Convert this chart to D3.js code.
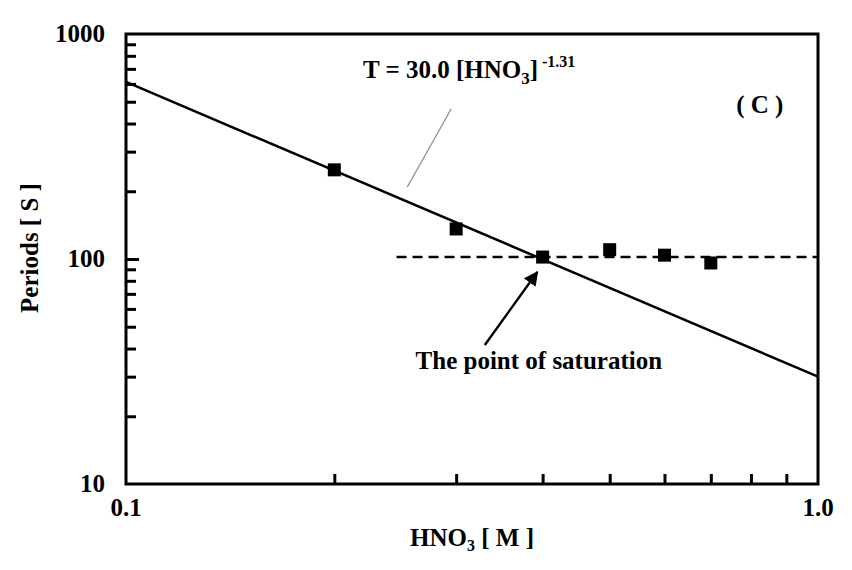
<!DOCTYPE html>
<html>
<head>
<meta charset="utf-8">
<script src="https://cdn.jsdelivr.net/npm/d3@7"></script>
<style>
  body { margin: 0; background: #fff; }
  text { font-family: "Liberation Serif", "Times New Roman", serif; font-weight: bold; fill: #000; }
</style>
</head>
<body>
<div class="chart"></div>
<script>
// measured points: HNO3 concentration [M] vs period [s]
const conc = [0.2, 0.3, 0.4, 0.5, 0.6, 0.7];
const periods = [249, 136, 102, 110, 104, 96];
// fit T = 30.0 [HNO3]^-1.31 , drawn at its two ends
const fitX = [0.1, 1.0];
const fitA = 30.0, fitB = -1.31;
// saturation level (dashed)
const satX = [0.246, 1.0];
const satY = 102;
const xTicks = [0.2, 0.3, 0.4, 0.5, 0.6, 0.7, 0.8, 0.9];
const xLabels = [0.1, 1.0];
const yTicks = [20, 30, 40, 50, 60, 70, 80, 90, 100, 200, 300, 400, 500, 600, 700, 800, 900];
const yLabels = [10, 100, 1000];

let margin = {top: 34, right: 34, bottom: 86, left: 126};
let width = 852 - margin.left - margin.right;
let height = 570 - margin.top - margin.bottom;

var svg = d3.select(".chart")
  .append("svg")
    .attr("width", 852)
    .attr("height", 570)
  .append("g")
    .attr("transform", "translate(" + margin.left + "," + margin.top + ")");

let x = d3.scaleLog().domain([0.1, 1.0]).range([0, width]);
let y = d3.scaleLog().domain([10, 1000]).range([height, 0]);

// frame
svg.append("rect")
    .attr("width", width).attr("height", height)
    .attr("fill", "none").attr("stroke", "#000").attr("stroke-width", 3);

// inward ticks (axis generators, ticks pointing into the plot)
let xa = svg.append("g")
    .attr("transform", "translate(0," + height + ")")
    .call(d3.axisTop(x).tickValues(xTicks).tickSize(10).tickFormat(() => ""));
xa.select(".domain").remove();
xa.selectAll(".tick line")
    .attr("y2", 0).attr("y1", -10)
    .attr("stroke", "#000").attr("stroke-width", 3);

let ya = svg.append("g")
    .call(d3.axisRight(y).tickValues(yTicks).tickSize(10).tickFormat(() => ""));
ya.select(".domain").remove();
ya.selectAll(".tick line")
    .attr("x2", d => d == 100 ? 13 : 10)
    .attr("stroke", "#000").attr("stroke-width", 3);

// tick labels
svg.selectAll(".xlab")
  .data(xLabels)
  .enter().append("text")
    .attr("x", d => x(d))
    .attr("y", height + 32)
    .attr("text-anchor", "middle")
    .style("font-size", "25px")
    .text(d => d.toFixed(1));

svg.selectAll(".ylab")
  .data(yLabels)
  .enter().append("text")
    .attr("x", -21)
    .attr("y", d => y(d) + 8)
    .attr("text-anchor", "end")
    .style("font-size", "25px")
    .text(d => d);

// axis titles
let xt = svg.append("text")
    .attr("x", width / 2)
    .attr("y", height + 62)
    .attr("text-anchor", "middle")
    .style("font-size", "25px");
xt.append("tspan").text("HNO");
xt.append("tspan").text("3").style("font-size", "16px").attr("dy", 5);
xt.append("tspan").text(" [ M ]").attr("dy", -5);

svg.append("text")
    .attr("transform", "translate(" + (-88) + "," + (y(100) - 11) + ") rotate(-90)")
    .attr("text-anchor", "middle")
    .style("font-size", "25px")
    .text("Periods [ S ]");

// fit line
svg.append("path")
    .datum(fitX)
    .attr("fill", "none")
    .attr("stroke", "#000")
    .attr("stroke-width", 2.5)
    .attr("d", d3.line()
      .x(d => x(d))
      .y(d => y(fitA * Math.pow(d, fitB))));

// saturation level
svg.append("path")
    .datum(satX)
    .attr("fill", "none")
    .attr("stroke", "#000")
    .attr("stroke-width", 2.5)
    .attr("stroke-dasharray", "10,6")
    .attr("d", d3.line()
      .x(d => x(d))
      .y(d => y(satY)));

// data squares
let sq = 13;
svg.selectAll(".pt")
  .data(conc)
  .enter().append("rect")
    .attr("class", "pt")
    .attr("x", d => x(d) - sq / 2)
    .attr("y", (d, i) => y(periods[i]) - sq / 2)
    .attr("width", sq).attr("height", sq)
    .attr("fill", "#000");

// equation label with grey leader
svg.append("line")
    .attr("x1", x(0.295)).attr("y1", y(464))
    .attr("x2", x(0.255)).attr("y2", y(209))
    .attr("stroke", "#888").attr("stroke-width", 1.2);

let eq = svg.append("text")
    .attr("x", x(0.22)).attr("y", y(640))
    .style("font-size", "25px");
eq.append("tspan").text("T = 30.0 [HNO");
eq.append("tspan").text("3").style("font-size", "17px").attr("dy", 6);
eq.append("tspan").text("]").attr("dy", -6);
eq.append("tspan").text(" -1.31").style("font-size", "16px").attr("dy", -11);

svg.append("text")
    .attr("x", x(0.824)).attr("y", y(446))
    .attr("text-anchor", "middle")
    .style("font-size", "25px")
    .text("( C )");

// arrow to the point of saturation
svg.append("defs").append("marker")
    .attr("id", "arr")
    .attr("viewBox", "0 0 10 10")
    .attr("refX", 9).attr("refY", 5)
    .attr("markerWidth", 6).attr("markerHeight", 6)
    .attr("orient", "auto")
  .append("path")
    .attr("d", "M0,0 L10,5 L0,10 z")
    .attr("fill", "#000");

svg.append("line")
    .attr("x1", x(0.330)).attr("y1", y(41.5))
    .attr("x2", x(0.393)).attr("y2", y(87.5))
    .attr("stroke", "#000").attr("stroke-width", 2.4)
    .attr("marker-end", "url(#arr)");

svg.append("text")
    .attr("x", x(0.395)).attr("y", y(32.3))
    .attr("text-anchor", "middle")
    .style("font-size", "25px")
    .text("The point of saturation");
</script>
</body>
</html>
